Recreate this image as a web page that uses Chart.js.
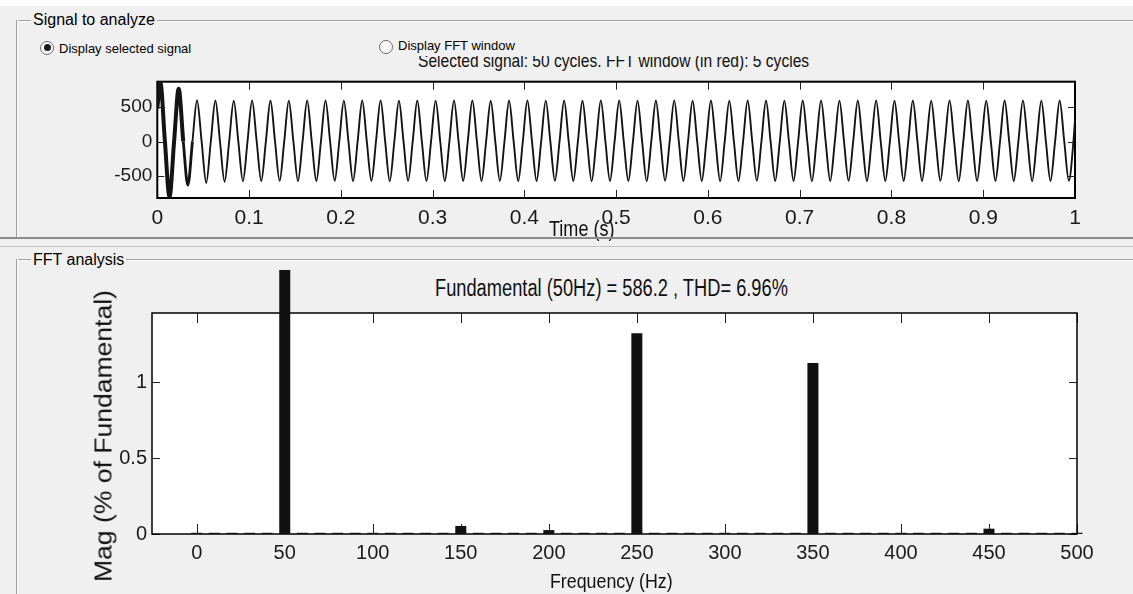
<!DOCTYPE html>
<html>
<head>
<meta charset="utf-8">
<title>FFT analysis</title>
<script src="https://cdn.jsdelivr.net/npm/chart.js@4.4.1/dist/chart.umd.min.js"></script>
<style>
  html, body { margin: 0; padding: 0; }
  body { position: relative; width: 1133px; height: 594px; overflow: hidden; background: #f0f0f0;
         font-family: "Liberation Sans", Arial, sans-serif; color: #111; }
  .abs { position: absolute; white-space: nowrap; line-height: 1; }
  .sq { transform-origin: 0 0; }
  .etch-h { position: absolute; height: 1px; background: #a0a0a0; border-bottom: 1px solid #fff; }
  .etch-v { position: absolute; width: 1px; background: #a0a0a0; border-right: 1px solid #fff; }
  .grp { background: #f0f0f0; padding: 0 2px; font-size: 16px; color: #000; }
  .radio { position: absolute; width: 12px; height: 12px; border-radius: 50%; border: 1px solid #6b6b6b; background: #fafafa; }
  .radio.on::after { content: ""; position: absolute; left: 2.5px; top: 2.5px; width: 7px; height: 7px; border-radius: 50%; background: #1b1b1b; }
  .ui { font-size: 13px; color: #000; }
  canvas { position: absolute; }
</style>
</head>
<body>

<div class="abs" style="left:0;top:0;width:1133px;height:6px;background:#fff"></div>

<!-- signal panel -->
<div class="etch-h" style="left:16px;top:20px;width:1117px"></div>
<div class="etch-v" style="left:16px;top:20px;height:217px"></div>
<div class="abs grp" style="left:31px;top:11.5px">Signal to analyze</div>

<div class="radio on" style="left:40px;top:40.5px"></div>
<div class="abs ui" style="left:59px;top:41.7px">Display selected signal</div>

<div class="abs sq" style="left:418px;top:50.6px;font-size:19px;transform:scaleX(0.82)">Selected signal: 50 cycles. FFT window (in red): 5 cycles</div>
<div class="abs" style="left:375px;top:36px;width:455px;height:20px;background:#f0f0f0">
  <div class="radio" style="left:3.5px;top:3.5px"></div>
  <div class="abs ui" style="left:23px;top:3px">Display FFT window</div>
</div>

<canvas id="signalChart" width="1060" height="185" style="left:60px;top:55px"></canvas>
<div class="abs sq" style="left:549px;top:218px;font-size:22px;transform:scaleX(0.82)">Time (s)</div>

<div class="abs" style="left:0;top:237px;width:1133px;height:2px;background:#8c8c8c"></div>
<div class="abs" style="left:0;top:246px;width:1133px;height:1px;background:#c4c4c4"></div>

<!-- FFT panel -->
<div class="etch-h" style="left:16px;top:259px;width:1117px"></div>
<div class="etch-v" style="left:16px;top:259px;height:335px"></div>
<div class="abs grp" style="left:31px;top:251.5px">FFT analysis</div>

<div class="abs sq" style="left:435px;top:277.2px;font-size:23px;transform:scaleX(0.794)">Fundamental (50Hz) = 586.2 , THD= 6.96%</div>

<canvas id="fftChart" width="1060" height="324" style="left:60px;top:270px"></canvas>

<div class="abs sq" style="left:550px;top:571px;font-size:20px;transform:scaleX(0.89)">Frequency (Hz)</div>
<div class="abs" style="left:103px;top:436px;font-size:26px;transform:translate(-50%,-50%) rotate(-90deg) scale(1.02,0.9)">Mag (% of Fundamental)</div>

<script>
// ================= DATA =================

// signal: one positive and one negative peak per 50 Hz cycle (V)
const sigPeaks = [
  862, 768, 600, 596, 594, 598, 596, 592, 596, 598,
  594, 596, 598, 592, 596, 594, 598, 596, 592, 596,
  598, 594, 596, 592, 598, 596, 594, 596, 598, 592,
  596, 594, 598, 596, 592, 596, 598, 594, 596, 598,
  592, 596, 594, 598, 596, 592, 596, 598, 594, 596
];
const sigTroughs = [
  -805, -633, -602, -585, -578, -575, -572, -576, -574, -572,
  -575, -573, -576, -572, -574, -576, -573, -575, -572, -576,
  -574, -572, -575, -577, -573, -574, -576, -572, -575, -573,
  -576, -574, -572, -575, -573, -577, -574, -572, -576, -574,
  -573, -575, -572, -576, -574, -573, -575, -577, -574, -572
];
const sigStart = 480;     // value at t = 0
const sigEnd = 320;       // value at t = 1 s
const peakPhase = 0.0033; // time of first positive peak (s)
const timeTicks = [0, 0.1, 0.2, 0.3, 0.4, 0.5, 0.6, 0.7, 0.8, 0.9, 1];
const timeTickLabels = ['0', '0.1', '0.2', '0.3', '0.4', '0.5', '0.6', '0.7', '0.8', '0.9', '1'];
const sigTicks = [-500, 0, 500];

// spectrum, % of fundamental, 10 Hz bins
const freqBins = [
  0, 10, 20, 30, 40, 50, 60, 70, 80, 90,
  100, 110, 120, 130, 140, 150, 160, 170, 180, 190,
  200, 210, 220, 230, 240, 250, 260, 270, 280, 290,
  300, 310, 320, 330, 340, 350, 360, 370, 380, 390,
  400, 410, 420, 430, 440, 450, 460, 470, 480, 490, 500
];
const magPct = [
  0.008, 0.008, 0.008, 0.008, 0.008, 100, 0.008, 0.008, 0.008, 0.008,
  0.008, 0.008, 0.008, 0.008, 0.008, 0.053, 0.008, 0.008, 0.008, 0.008,
  0.026, 0.008, 0.008, 0.008, 0.008, 1.32, 0.008, 0.008, 0.008, 0.008,
  0.008, 0.008, 0.008, 0.008, 0.008, 1.125, 0.008, 0.008, 0.008, 0.008,
  0.008, 0.008, 0.008, 0.008, 0.008, 0.035, 0.008, 0.008, 0.008, 0.008, 0.008
];
const freqTicks = [0, 50, 100, 150, 200, 250, 300, 350, 400, 450, 500];
const magTicks = [0, 0.5, 1];
const magTickLabels = ['0', '0.5', '1'];

// ================= HELPERS =================

const fontFamily = '"Liberation Sans", Arial, sans-serif';

// white plot area, inward ticks on all four sides and a black box
const axesBox = {
  id: 'axesBox',
  beforeDraw(chart) {
    const { ctx, chartArea: a } = chart;
    ctx.save();
    ctx.fillStyle = '#fff';
    ctx.fillRect(a.left, a.top, a.right - a.left, a.bottom - a.top);
    ctx.restore();
  },
  beforeDatasetsDraw(chart, args, o) {
    const { ctx, chartArea: a, scales: { x, y } } = chart;
    ctx.save();
    ctx.strokeStyle = '#222';
    ctx.lineWidth = 1;
    ctx.beginPath();
    x.ticks.forEach(t => {
      const px = Math.round(x.getPixelForValue(t.value)) + 0.5;
      ctx.moveTo(px, a.bottom); ctx.lineTo(px, a.bottom - o.xLen);
      ctx.moveTo(px, a.top); ctx.lineTo(px, a.top + o.xLen);
    });
    y.ticks.forEach(t => {
      const py = Math.round(y.getPixelForValue(t.value)) + 0.5;
      ctx.moveTo(a.left, py); ctx.lineTo(a.left + o.yLen, py);
      ctx.moveTo(a.right, py); ctx.lineTo(a.right - o.yLen, py);
    });
    ctx.stroke();
    ctx.strokeStyle = '#000';
    ctx.lineWidth = o.boxWidth;
    ctx.strokeRect(a.left, a.top, a.right - a.left, a.bottom - a.top);
    ctx.restore();
  }
};

// ================= SIGNAL =================

const period = 0.02;
const sigPoints = [{ x: 0, y: sigStart }];
sigPeaks.forEach((pk, k) => {
  const t0 = peakPhase + k * period;
  sigPoints.push({ x: t0, y: pk });
  sigPoints.push({ x: t0 + period / 4, y: 0 });
  sigPoints.push({ x: t0 + period / 2, y: sigTroughs[k] });
  sigPoints.push({ x: t0 + 3 * period / 4, y: 0 });
});
sigPoints.push({ x: 1, y: sigEnd });

new Chart(document.getElementById('signalChart'), {
  type: 'line',
  data: {
    datasets: [{
      data: sigPoints,
      borderColor: '#141414',
      borderWidth: 1.9,
      pointRadius: 0,
      cubicInterpolationMode: 'monotone',
      segment: {
        // the start-up transient is drawn heavier
        borderWidth: c => c.p0.parsed.x < 0.028 ? 4 : (c.p0.parsed.x < 0.036 ? 2.8 : 1.9)
      }
    }]
  },
  options: {
    responsive: false,
    animation: false,
    layout: { padding: { left: 0, top: 26.7, right: 45, bottom: 0 } },
    plugins: {
      legend: { display: false },
      tooltip: { enabled: false },
      axesBox: { xLen: 8, yLen: 7, boxWidth: 2 }
    },
    scales: {
      x: {
        type: 'linear', min: 0, max: 1,
        afterBuildTicks: s => { s.ticks = timeTicks.map(v => ({ value: v })); },
        afterFit: s => { s.height = 42; },
        grid: { display: false, drawTicks: false },
        border: { display: false },
        ticks: { autoSkip: false, maxRotation: 0, padding: 8, color: '#1a1a1a',
                 font: { family: fontFamily, size: 21 },
                 callback: (v, i) => timeTickLabels[i] }
      },
      y: {
        type: 'linear', min: -821, max: 869,
        afterBuildTicks: s => { s.ticks = sigTicks.map(v => ({ value: v })); },
        afterFit: s => { s.width = 97.3; },
        grid: { display: false, drawTicks: false },
        border: { display: false },
        ticks: { padding: 5, color: '#1a1a1a', font: { family: fontFamily, size: 19 } }
      }
    }
  },
  plugins: [axesBox]
});

// ================= SPECTRUM =================

new Chart(document.getElementById('fftChart'), {
  type: 'bar',
  data: {
    datasets: [{
      data: freqBins.map((f, i) => ({ x: f, y: magPct[i] })),
      backgroundColor: '#111',
      borderWidth: 0,
      barPercentage: 0.625,
      categoryPercentage: 1,
      clip: false
    }]
  },
  options: {
    responsive: false,
    animation: false,
    layout: { padding: { left: 0, top: 43, right: 43, bottom: 0 } },
    plugins: {
      legend: { display: false },
      tooltip: { enabled: false },
      axesBox: { xLen: 10, yLen: 8, boxWidth: 1.5 }
    },
    scales: {
      x: {
        type: 'linear', min: -25.4, max: 500, offset: false,
        afterBuildTicks: s => { s.ticks = freqTicks.map(v => ({ value: v })); },
        afterFit: s => { s.height = 60; },
        grid: { display: false, drawTicks: false },
        border: { display: false },
        ticks: { autoSkip: false, maxRotation: 0, padding: 7, color: '#1a1a1a',
                 font: { family: fontFamily, size: 20 } }
      },
      y: {
        type: 'linear', min: 0, max: 1.454,
        afterBuildTicks: s => { s.ticks = magTicks.map(v => ({ value: v })); },
        afterFit: s => { s.width = 92; },
        grid: { display: false, drawTicks: false },
        border: { display: false },
        ticks: { padding: 5, color: '#1a1a1a', font: { family: fontFamily, size: 20 },
                 callback: (v, i) => magTickLabels[i] }
      }
    }
  },
  plugins: [axesBox]
});
</script>
</body>
</html>
